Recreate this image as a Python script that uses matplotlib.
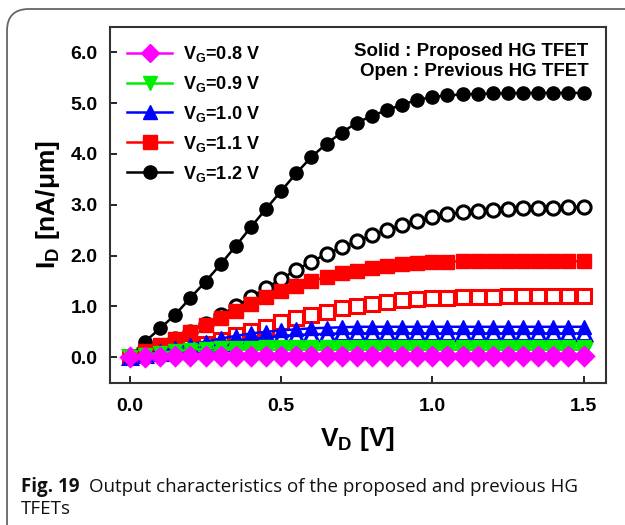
import matplotlib
matplotlib.use("Agg")
import matplotlib.pyplot as plt
from matplotlib.patches import FancyBboxPatch
from matplotlib.lines import Line2D

plt.rcParams['font.family'] = ['Liberation Sans', 'DejaVu Sans']
plt.rcParams['mathtext.fontset'] = 'custom'
plt.rcParams['mathtext.rm'] = 'Liberation Sans:bold'
plt.rcParams['mathtext.bf'] = 'Liberation Sans:bold'

# drain voltage sweep [V]
vd = [0.0, 0.05, 0.1, 0.15, 0.2, 0.25, 0.3, 0.35, 0.4, 0.45, 0.5,
      0.55, 0.6, 0.65, 0.7, 0.75, 0.8, 0.85, 0.9, 0.95, 1.0,
      1.05, 1.1, 1.15, 1.2, 1.25, 1.3, 1.35, 1.4, 1.45, 1.5]

gate_labels = ["0.8", "0.9", "1.0", "1.1", "1.2"]
colors = ["#ff00ff", "#00ee00", "#0000ff", "#ff0000", "#000000"]
markers = ["D", "v", "^", "s", "o"]

# proposed HG TFET (solid) [nA/um]
prop_08 = [0.0, 0.02, 0.03, 0.04, 0.04, 0.05, 0.05, 0.05, 0.05, 0.05, 0.05,
           0.05, 0.05, 0.05, 0.05, 0.05, 0.05, 0.05, 0.05, 0.05, 0.05,
           0.05, 0.05, 0.05, 0.05, 0.05, 0.05, 0.05, 0.05, 0.05, 0.05]
prop_09 = [0.0, 0.05, 0.09, 0.12, 0.15, 0.17, 0.18, 0.19, 0.19, 0.2, 0.2,
           0.2, 0.2, 0.2, 0.2, 0.2, 0.2, 0.2, 0.2, 0.2, 0.2,
           0.2, 0.2, 0.2, 0.2, 0.2, 0.2, 0.2, 0.2, 0.2, 0.2]
prop_10 = [0.0, 0.06, 0.12, 0.18, 0.25, 0.31, 0.37, 0.42, 0.47, 0.5, 0.53,
           0.55, 0.57, 0.58, 0.59, 0.6, 0.6, 0.6, 0.6, 0.6, 0.6,
           0.6, 0.6, 0.6, 0.6, 0.6, 0.6, 0.6, 0.6, 0.6, 0.6]
prop_11 = [0.0, 0.12, 0.24, 0.36, 0.5, 0.64, 0.78, 0.91, 1.05, 1.18, 1.3,
           1.41, 1.5, 1.58, 1.65, 1.7, 1.76, 1.8, 1.83, 1.85, 1.87,
           1.88, 1.89, 1.9, 1.9, 1.9, 1.9, 1.9, 1.9, 1.89, 1.89]
prop_12 = [0.0, 0.31, 0.57, 0.84, 1.17, 1.49, 1.83, 2.19, 2.56, 2.92, 3.27,
           3.62, 3.94, 4.2, 4.42, 4.61, 4.75, 4.86, 4.97, 5.06, 5.12,
           5.15, 5.17, 5.18, 5.19, 5.19, 5.2, 5.2, 5.2, 5.2, 5.2]

# previous HG TFET (open) [nA/um]
prev_08 = [0.0, 0.01, 0.02, 0.03, 0.03, 0.03, 0.03, 0.03, 0.03, 0.03, 0.03,
           0.03, 0.03, 0.03, 0.03, 0.03, 0.03, 0.03, 0.03, 0.03, 0.03,
           0.03, 0.03, 0.03, 0.03, 0.03, 0.03, 0.03, 0.03, 0.03, 0.03]
prev_09 = [0.0, 0.04, 0.07, 0.1, 0.12, 0.13, 0.14, 0.15, 0.15, 0.15, 0.15,
           0.15, 0.15, 0.15, 0.15, 0.15, 0.15, 0.15, 0.15, 0.15, 0.15,
           0.15, 0.15, 0.15, 0.15, 0.15, 0.15, 0.15, 0.15, 0.15, 0.15]
prev_10 = [0.0, 0.04, 0.08, 0.13, 0.18, 0.23, 0.28, 0.32, 0.36, 0.39, 0.42,
           0.44, 0.45, 0.46, 0.47, 0.47, 0.47, 0.47, 0.47, 0.47, 0.47,
           0.47, 0.47, 0.47, 0.47, 0.47, 0.47, 0.47, 0.47, 0.47, 0.47]
prev_11 = [0.0, 0.04, 0.08, 0.13, 0.2, 0.27, 0.35, 0.43, 0.52, 0.6, 0.69,
           0.77, 0.84, 0.9, 0.96, 1.01, 1.05, 1.09, 1.12, 1.14, 1.16,
           1.17, 1.18, 1.19, 1.19, 1.2, 1.2, 1.2, 1.2, 1.2, 1.2]
prev_12 = [0.0, 0.1, 0.22, 0.36, 0.5, 0.66, 0.83, 1.0, 1.18, 1.36, 1.54,
           1.72, 1.88, 2.03, 2.16, 2.28, 2.4, 2.5, 2.6, 2.69, 2.76,
           2.81, 2.85, 2.88, 2.9, 2.92, 2.93, 2.94, 2.94, 2.95, 2.95]

proposed = [prop_08, prop_09, prop_10, prop_11, prop_12]
previous = [prev_08, prev_09, prev_10, prev_11, prev_12]

fig = plt.figure(figsize=(6.25, 5.25), dpi=100)

# rounded frame around figure + caption
frame = FancyBboxPatch((7 / 625, -0.1), 1.2, 1.1 - 9 / 525,
                       boxstyle="round,pad=0,rounding_size=0.035",
                       transform=fig.transFigure, fill=False,
                       edgecolor="#666666", linewidth=1.3, mutation_aspect=625 / 525)
fig.patches.append(frame)

ax = fig.add_axes([0.176, 0.271, 0.793, 0.678])

ms = 9.5
for i in range(4, -1, -1):
    ax.plot(vd, previous[i], color=colors[i], marker=markers[i], markersize=ms,
            markerfacecolor="white", markeredgewidth=2.2, linewidth=1.8)
for i in range(4, -1, -1):
    ax.plot(vd, proposed[i], color=colors[i], marker=markers[i], markersize=ms,
            linewidth=1.8)

ax.set_xlim(-0.066, 1.573)
ax.set_ylim(-0.5, 6.5)
ax.set_xticks([0.0, 0.5, 1.0, 1.5])
ax.set_yticks([0, 1, 2, 3, 4, 5, 6])
ax.set_xticklabels(["0.0", "0.5", "1.0", "1.5"])
ax.set_yticklabels(["0.0", "1.0", "2.0", "3.0", "4.0", "5.0", "6.0"])
ax.tick_params(direction="in", length=5, width=1.2, labelsize=14, pad=9)
ax.tick_params(axis="x", pad=11)
for lbl in ax.get_xticklabels() + ax.get_yticklabels():
    lbl.set_fontweight("bold")
for sp in ax.spines.values():
    sp.set_linewidth(1.5)
    sp.set_color("#333333")

ax.set_xlabel("V$_\\mathregular{D}$ [V]", fontsize=19, fontweight="bold", labelpad=7)
ax.set_ylabel("I$_\\mathregular{D}$ [nA/\u03bcm]", fontsize=19, fontweight="bold", labelpad=6)

handles = [Line2D([], [], color=colors[i], marker=markers[i], markersize=ms, linewidth=1.8)
           for i in range(5)]
labels = ["V$_\\mathregular{G}$=" + g + " V" for g in gate_labels]
leg = ax.legend(handles, labels, loc="upper left", frameon=False,
                prop={"weight": "bold", "size": 13}, handlelength=2.5,
                labelspacing=0.55, borderaxespad=0.4, borderpad=0.55,
                handletextpad=0.6)

ax.text(0.965, 0.955, "Solid : Proposed HG TFET\nOpen : Previous HG TFET",
        transform=ax.transAxes, ha="right", va="top", fontsize=13.5,
        fontweight="bold", linespacing=1.25)

fig.text(21 / 625, 1 - 487 / 525, "Fig. 19", fontsize=13.5, fontweight="bold",
         family="Open Sans", va="center", color="#111111")
fig.text(89 / 625, 1 - 487 / 525, "Output characteristics of the proposed and previous HG",
         fontsize=13.5, family="Open Sans", va="center", color="#111111")
fig.text(21 / 625, 1 - 509 / 525, "TFETs", fontsize=13.5, family="Open Sans",
         va="center", color="#111111")

fig.savefig("out.png", dpi=100)
